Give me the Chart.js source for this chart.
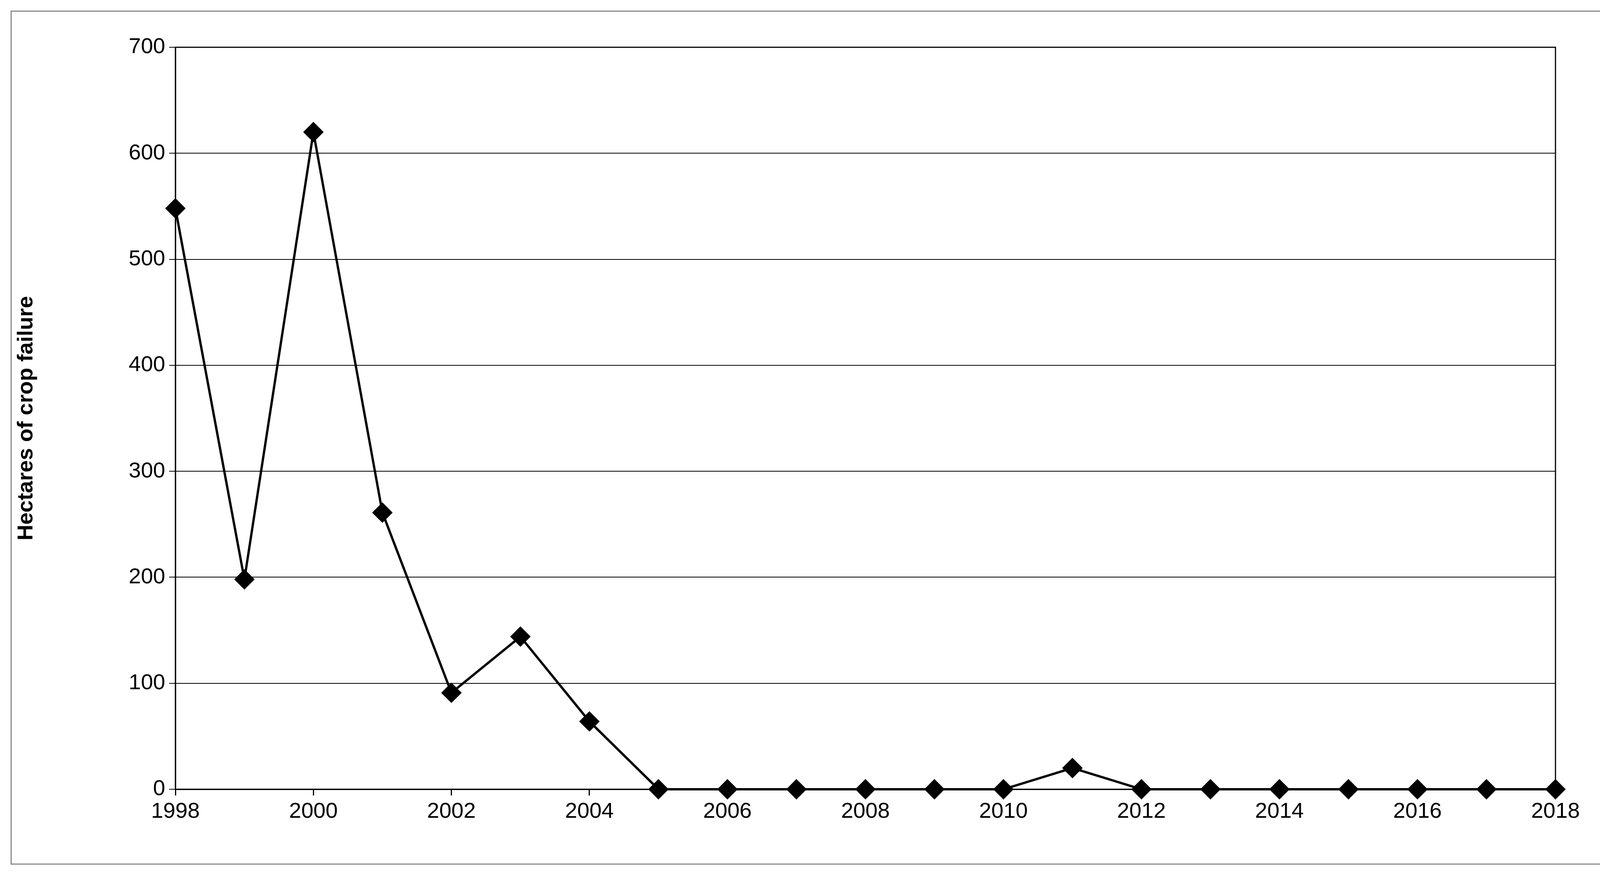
<!DOCTYPE html>
<html>
<head>
<meta charset="utf-8">
<script src="https://cdn.jsdelivr.net/npm/chart.js@4"></script>
<style>
  body { margin: 0; background: #fff; }
  #frame { position: absolute; left: 27px; top: 27px; width: 4122px; height: 2180px; border: 3px solid #8c8c8c; }
  canvas { display: block; }
</style>
</head>
<body>
<div id="frame"><canvas id="c" width="4122" height="2180"></canvas></div>
<script>
const years = [1998, 1999, 2000, 2001, 2002, 2003, 2004, 2005, 2006, 2007, 2008,
               2009, 2010, 2011, 2012, 2013, 2014, 2015, 2016, 2017, 2018];
const hectares = [548, 198, 620, 261, 91, 144, 64, 0, 0, 0, 0,
                  0, 0, 20, 0, 0, 0, 0, 0, 0, 0];
const yTitle = 'Hectares of crop failure';

Chart.defaults.font.family = '"Liberation Sans", Arial, sans-serif';
Chart.defaults.color = '#000';

// solid box around the plot area
const plotBox = {
    id: 'plotBox',
    afterDraw(chart) {
        const { ctx, chartArea: a } = chart;
        ctx.save();
        ctx.strokeStyle = '#000';
        ctx.lineWidth = 3;
        ctx.strokeRect(a.left, a.top, a.right - a.left, a.bottom - a.top);
        ctx.restore();
    }
};

new Chart(document.getElementById('c'), {
    type: 'line',
    data: {
        datasets: [{
            data: years.map((y, i) => ({ x: y, y: hectares[i] })),
            borderColor: '#000',
            backgroundColor: '#000',
            borderWidth: 6,
            pointStyle: 'rectRot',
            pointRadius: 22,
            clip: false,
            tension: 0
        }]
    },
    options: {
        responsive: false,
        devicePixelRatio: 1,
        animation: false,
        events: [],
        layout: { padding: { top: 91, right: 170, left: 0, bottom: 0 } },
        plugins: { legend: { display: false }, tooltip: { enabled: false } },
        scales: {
            x: {
                type: 'linear', min: 1998, max: 2018,
                afterFit: s => { s.height = 190; },
                ticks: { stepSize: 2, font: { size: 56 }, padding: 8, callback: v => String(v) },
                grid: { drawOnChartArea: false, color: '#000', lineWidth: 3, tickLength: 16 },
                border: { color: '#000', width: 3 }
            },
            y: {
                min: 0, max: 700,
                afterFit: s => { s.width = 419; },
                ticks: { stepSize: 100, font: { size: 56 }, padding: 10 },
                grid: { color: '#000', lineWidth: 2, borderDash: [10, 8], tickBorderDash: [], tickLength: 16 },
                border: { color: '#000', width: 3 },
                title: { display: true, text: yTitle, font: { size: 56, weight: 'bold' }, padding: { bottom: 30 } }
            }
        }
    },
    plugins: [plotBox]
});
</script>
</body>
</html>
